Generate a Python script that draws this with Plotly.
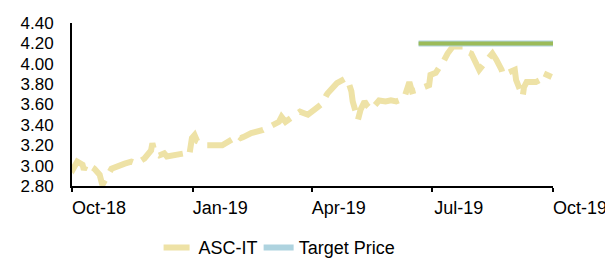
import plotly.graph_objects as go

# ASC-IT share price
price_dates = [
    "2018-10-01", "2018-10-02", "2018-10-05", "2018-10-09", "2018-10-10", "2018-10-12",
    "2018-10-18", "2018-10-22", "2018-10-24", "2018-10-27", "2018-10-31",
    "2018-11-10", "2018-11-15", "2018-11-19", "2018-11-23", "2018-11-25",
    "2018-11-30", "2018-12-01", "2018-12-03", "2018-12-06", "2018-12-10", "2018-12-12",
    "2018-12-25", "2018-12-29", "2018-12-31", "2019-01-02", "2019-01-04", "2019-01-07", "2019-01-11",
    "2019-01-23", "2019-01-27", "2019-02-01", "2019-02-03", "2019-02-06", "2019-02-08", "2019-02-12", "2019-02-14",
    "2019-02-23", "2019-02-27", "2019-03-03", "2019-03-07", "2019-03-09", "2019-03-12",
    "2019-03-23", "2019-03-26", "2019-03-29", "2019-04-03", "2019-04-07", "2019-04-09", "2019-04-12", "2019-04-13",
    "2019-04-20", "2019-04-24", "2019-04-27", "2019-04-29", "2019-05-01", "2019-05-02", "2019-05-03",
    "2019-05-06", "2019-05-08", "2019-05-11", "2019-05-13", "2019-05-16",
    "2019-05-22", "2019-05-27", "2019-05-31", "2019-06-04", "2019-06-08", "2019-06-10",
    "2019-06-14", "2019-06-16", "2019-06-19", "2019-06-23", "2019-06-27", "2019-06-29",
    "2019-06-30", "2019-07-04", "2019-07-07", "2019-07-09", "2019-07-13", "2019-07-16", "2019-07-17",
    "2019-07-25", "2019-07-27", "2019-07-31", "2019-08-02", "2019-08-05", "2019-08-06",
    "2019-08-14", "2019-08-16", "2019-08-19", "2019-08-21", "2019-08-23", "2019-08-24",
    "2019-09-02", "2019-09-03", "2019-09-06", "2019-09-08", "2019-09-09", "2019-09-11",
    "2019-09-18", "2019-09-21", "2019-09-23", "2019-09-26", "2019-09-28", "2019-09-30",
]
price_values = [
    2.99, 2.97, 3.04, 3.01, 2.96, 3.02,
    2.97, 2.91, 2.81, 2.89, 2.97,
    3.02, 3.04, 3.02, 3.06, 3.07,
    3.15, 3.22, 3.12, 3.10, 3.12, 3.09,
    3.12, 3.10, 3.27, 3.30, 3.24, 3.22, 3.20,
    3.20, 3.23, 3.27, 3.30, 3.27, 3.28, 3.31, 3.32,
    3.35, 3.38, 3.40, 3.43, 3.48, 3.43,
    3.53, 3.51, 3.50, 3.55, 3.58, 3.61, 3.69, 3.71,
    3.81, 3.84, 3.86, 3.81, 3.73, 3.63, 3.59,
    3.45, 3.55, 3.63, 3.59, 3.55,
    3.64, 3.63, 3.64, 3.63, 3.65, 3.66,
    3.82, 3.73, 3.74, 3.76, 3.77, 3.79,
    3.89, 3.91, 3.97, 4.00, 4.10, 4.15, 4.17,
    4.17, 4.12, 4.10, 4.04, 3.97, 3.94,
    4.07, 4.10, 4.04, 4.00, 3.94, 3.89,
    3.94, 3.84, 3.76, 3.68, 3.77, 3.82,
    3.82, 3.84, 3.91, 3.89, 3.87, 3.87,
]

# Target price
target_dates = ["2019-06-21", "2019-10-01"]
target_values = [4.20, 4.20]

# Axis ticks
x_tick_vals = ["2018-10-01", "2019-01-01", "2019-04-01", "2019-07-01", "2019-10-01"]
x_tick_text = ["Oct-18", "Jan-19", "Apr-19", "Jul-19", "Oct-19"]
y_tick_vals = [2.8, 3.0, 3.2, 3.4, 3.6, 3.8, 4.0, 4.2, 4.4]

FONT = "Liberation Sans, Arial, sans-serif"

fig = go.Figure()
fig.add_trace(go.Scatter(
    x=price_dates, y=price_values, mode="lines", name="ASC-IT",
    line=dict(color="#EEE2A6", width=6, dash="26px,10px"),
    legend="legend",
))
fig.add_trace(go.Scatter(
    x=target_dates, y=target_values, mode="lines", name="Target Price",
    line=dict(color="#AED3DF", width=6),
    legend="legend2",
))
fig.add_trace(go.Scatter(
    x=target_dates, y=target_values, mode="lines", name="Target Price",
    line=dict(color="#9BBB59", width=4), showlegend=False,
))

legend_common = dict(
    orientation="h", xanchor="left", y=-0.265, yanchor="top",
    font=dict(family=FONT, size=18, color="#000000"),
    itemwidth=30, bgcolor="rgba(0,0,0,0)",
)

# page body adds an 8px margin, so the figure is sized to fit the 613x259 window
fig.update_layout(
    width=605, height=251,
    margin=dict(l=64, r=60, t=15, b=73, autoexpand=False),
    plot_bgcolor="white", paper_bgcolor="white",
    font=dict(family=FONT, size=18, color="#000000"),
    showlegend=True,
    legend=dict(x=0.18, **legend_common),
    legend2=dict(x=0.388, **legend_common),
    xaxis=dict(
        type="date", range=["2018-10-01", "2019-10-01"],
        tickvals=x_tick_vals, ticktext=x_tick_text,
        showgrid=False, zeroline=False, automargin=False,
        showline=True, linecolor="#000000", linewidth=2,
        ticks="outside", ticklen=4, tickwidth=2, tickcolor="#000000",
        ticklabelshift=27, ticklabelstandoff=0,
    ),
    yaxis=dict(
        range=[2.8, 4.4], tickvals=y_tick_vals, tickformat=".2f",
        showgrid=False, zeroline=False, automargin=False,
        showline=True, linecolor="#000000", linewidth=2,
        ticks="", ticklabelstandoff=13, tickfont=dict(size=17),
    ),
)

fig.write_html("out.html")
